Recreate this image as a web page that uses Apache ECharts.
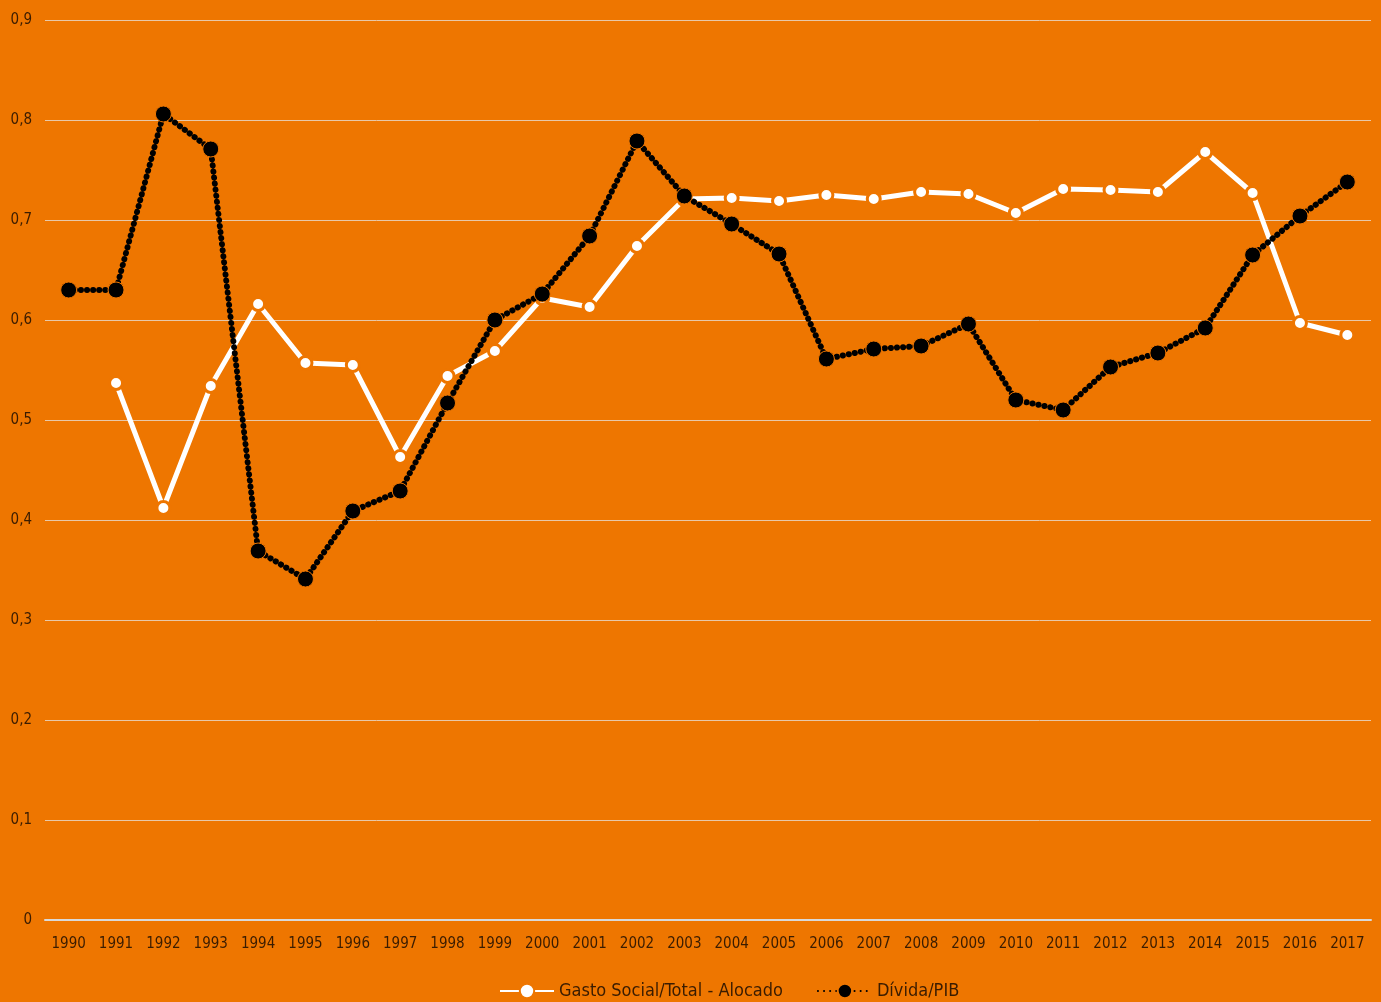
<!DOCTYPE html>
<html lang="pt">
<head>
    <meta charset="UTF-8">
    <title>Gasto Social e Dívida/PIB</title>
    <script src="https://cdn.jsdelivr.net/npm/echarts@6/dist/echarts.min.js"></script>
    <style>
        *{margin:0;padding:0;}
        html,body{width:100%;height:100%;overflow:hidden;background:#ee7600;}
        .container{width:1381px;height:1002px;}
    </style>
</head>
<body>
<div class="container"></div>
<script>
    const anos = ['1990','1991','1992','1993','1994','1995','1996','1997','1998','1999',
        '2000','2001','2002','2003','2004','2005','2006','2007','2008','2009',
        '2010','2011','2012','2013','2014','2015','2016','2017'];
    const gastoSocial = [null,0.537,0.412,0.534,0.616,0.557,0.555,0.463,0.544,0.569,
        0.622,0.613,0.674,0.721,0.722,0.719,0.725,0.721,0.728,0.726,
        0.707,0.731,0.730,0.728,0.768,0.727,0.597,0.585];
    const dividaPib = [0.630,0.630,0.806,0.771,0.369,0.341,0.409,0.429,0.517,0.600,
        0.626,0.684,0.779,0.724,0.696,0.666,0.561,0.571,0.574,0.596,
        0.520,0.510,0.553,0.567,0.592,0.665,0.704,0.738];

    const laranja = '#ee7600';
    const texto = '#3a1c00';
    const fonte = '"Liberation Sans Narrow","DejaVu Sans Condensed",sans-serif';

    let mychart = echarts.init(document.querySelector('.container'));
    mychart.setOption({
        backgroundColor: laranja,
        animation: false,
        textStyle: {fontFamily: fonte, color: texto},
        grid: {left: 45, right: 10, top: 20, bottom: 82},
        legend: {
            left: 494,
            bottom: -3,
            itemWidth: 54,
            itemHeight: 18,
            itemGap: 34,
            textStyle: {fontSize: 18, color: texto, fontFamily: fonte},
            data: ['Gasto Social/Total - Alocado', 'Dívida/PIB']
        },
        xAxis: {
            type: 'category',
            data: anos,
            boundaryGap: true,
            axisLine: {show: true, lineStyle: {color: '#d9d9d9', width: 2}},
            axisTick: {show: false},
            axisLabel: {fontSize: 15, color: texto, fontFamily: fonte, margin: 17, interval: 0}
        },
        yAxis: {
            type: 'value',
            min: 0,
            max: 0.9,
            interval: 0.1,
            axisLine: {show: false},
            axisTick: {show: false},
            splitLine: {lineStyle: {color: '#e8c8a8', width: 1}},
            axisLabel: {
                fontSize: 15, color: texto, fontFamily: fonte, margin: 13,
                formatter: v => (Math.round(v * 10) / 10).toString().replace('.', ',')
            }
        },
        series: [
            {
                name: 'Gasto Social/Total - Alocado',
                type: 'line',
                data: gastoSocial,
                symbol: 'circle',
                symbolSize: 13,
                lineStyle: {color: '#ffffff', width: 5},
                itemStyle: {color: '#ffffff', borderColor: laranja, borderWidth: 3},
                z: 2
            },
            {
                name: 'Dívida/PIB',
                type: 'line',
                data: dividaPib,
                symbol: 'circle',
                symbolSize: 16,
                lineStyle: {color: '#000000', width: 6, type: [0.1, 6], cap: 'round'},
                itemStyle: {color: '#000000', borderColor: laranja, borderWidth: 1},
                z: 3
            }
        ]
    });
</script>
</body>
</html>
